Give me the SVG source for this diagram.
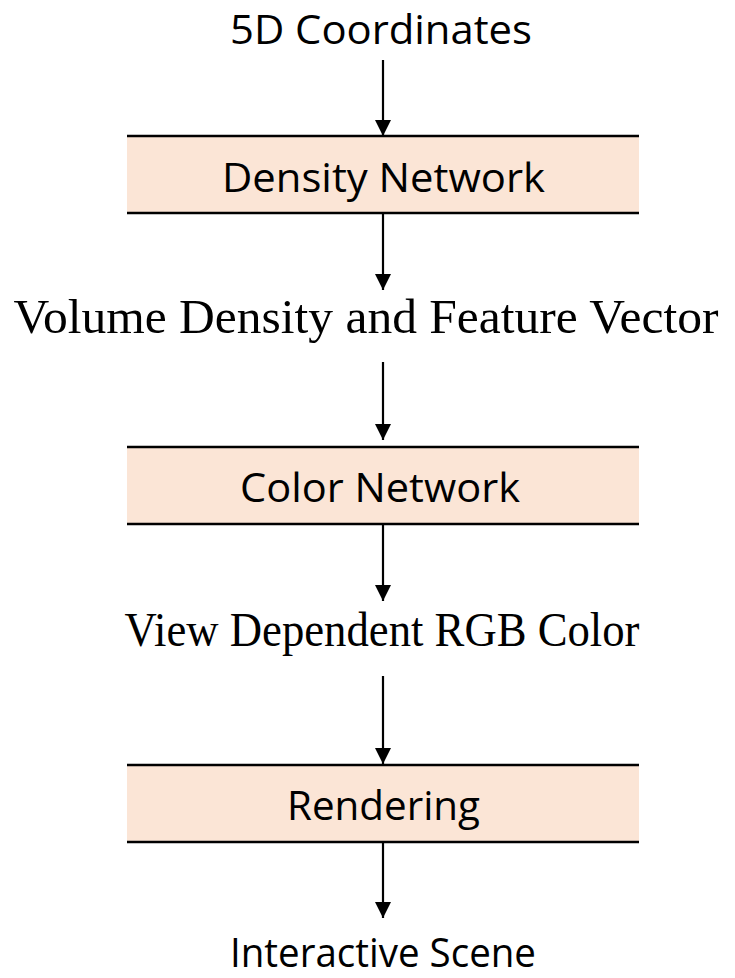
<svg xmlns="http://www.w3.org/2000/svg" width="735" height="978" viewBox="0 0 735 978">
  <style>
    .box { fill: #FBE5D6; }
    .edge { stroke: #000; stroke-width: 2.5; fill: none; }
    .sans { font-family: "Open Sans", "Liberation Sans", sans-serif; font-size: 41px; fill: #000; text-anchor: middle; }
    .serif { font-family: "Liberation Serif", "DejaVu Serif", serif; font-size: 49px; fill: #000; text-anchor: middle; }
    .flow { stroke: #000; stroke-width: 2.2; fill: none; marker-end: url(#head); }
  </style>
  <defs>
    <!-- filled triangular arrowhead, tip at the end of the line -->
    <marker id="head" markerUnits="userSpaceOnUse" markerWidth="16" markerHeight="16" refX="16" refY="8" orient="auto" viewBox="0 0 16 16">
      <path d="M0,0 L16,8 L0,16 Z" fill="#000"/>
    </marker>
  </defs>
  <rect width="735" height="978" fill="#fff"/>

  <g id="input">
    <text class="sans" x="381" y="44" textLength="302" lengthAdjust="spacingAndGlyphs">5D Coordinates</text>
  </g>
  <g id="density-network">
    <rect class="box" x="127" y="136" width="512" height="77"/>
    <line class="edge" x1="127" y1="136" x2="639" y2="136"/>
    <line class="edge" x1="127" y1="213" x2="639" y2="213"/>
    <text class="sans" x="383.5" y="192" textLength="323" lengthAdjust="spacingAndGlyphs">Density Network</text>
  </g>
  <g id="density-output">
    <text class="serif" x="366" y="333" textLength="705" lengthAdjust="spacingAndGlyphs">Volume Density and Feature Vector</text>
  </g>
  <g id="color-network">
    <rect class="box" x="127" y="447" width="512" height="77"/>
    <line class="edge" x1="127" y1="447" x2="639" y2="447"/>
    <line class="edge" x1="127" y1="524" x2="639" y2="524"/>
    <text class="sans" x="380" y="502" textLength="280" lengthAdjust="spacingAndGlyphs">Color Network</text>
  </g>
  <g id="color-output">
    <text class="serif" x="382" y="646" textLength="515" lengthAdjust="spacingAndGlyphs">View Dependent RGB Color</text>
  </g>
  <g id="rendering">
    <rect class="box" x="127" y="765" width="512" height="77"/>
    <line class="edge" x1="127" y1="765" x2="639" y2="765"/>
    <line class="edge" x1="127" y1="842" x2="639" y2="842"/>
    <text class="sans" x="383.5" y="820" textLength="193" lengthAdjust="spacingAndGlyphs">Rendering</text>
  </g>
  <g id="output">
    <text class="sans" x="383" y="967" textLength="306" lengthAdjust="spacingAndGlyphs">Interactive Scene</text>
  </g>

  <g id="connectors">
    <line class="flow" x1="383" y1="60" x2="383" y2="136"/>
    <line class="flow" x1="383" y1="213" x2="383" y2="290"/>
    <line class="flow" x1="383" y1="362" x2="383" y2="440"/>
    <line class="flow" x1="383" y1="524" x2="383" y2="601"/>
    <line class="flow" x1="383" y1="676" x2="383" y2="764"/>
    <line class="flow" x1="383" y1="842" x2="383" y2="918"/>
  </g>
</svg>
